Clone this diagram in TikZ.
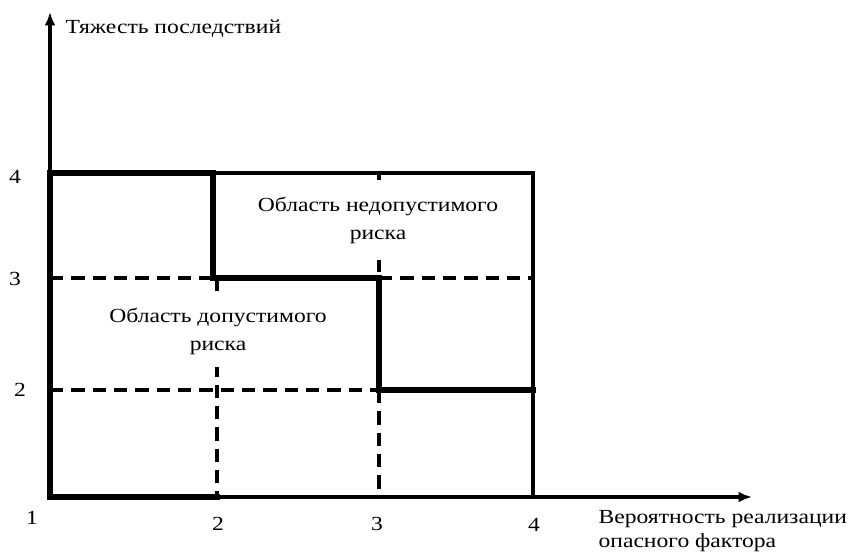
\documentclass[tikz,border=0pt]{standalone}
\usepackage{fontspec}
\setmainfont{Liberation Serif}[FakeStretch=1.18]
\usetikzlibrary{arrows.meta}
\begin{document}
\begin{tikzpicture}[x=0.75pt,y=-0.75pt,
  thickline/.style={line width=3.8pt,line cap=rect},
  thinline/.style={line width=2.3pt},
  axisline/.style={line width=2.6pt,-{Latex[length=10pt,width=8pt]}},
  dashline/.style={line width=2.3pt,dash pattern=on 10pt off 6pt},
  lbl/.style={font=\fontsize{15}{21}\selectfont,inner sep=1pt},
  area/.style={font=\fontsize{15}{21}\selectfont,align=center,fill=white,inner sep=2pt}]
\useasboundingbox (0,0) rectangle (854,551);
% grid coordinates
\coordinate (O) at (50,497);
\coordinate (ytop) at (50,12);
\coordinate (xend) at (752,497);
\coordinate (a4) at (50,173);
\coordinate (b4) at (213,173);
\coordinate (c4) at (379,173);
\coordinate (d4) at (533,173);
\coordinate (a3) at (50,278);
\coordinate (b3) at (213,278);
\coordinate (b3x) at (217,278);
\coordinate (c3) at (379,278);
\coordinate (d3) at (533,278);
\coordinate (a2) at (50,390);
\coordinate (c2) at (379,390);
\coordinate (d2) at (533,390);
\coordinate (b1) at (217,497);
\coordinate (c1) at (379,497);
\coordinate (d1) at (533,497);
% dashed grid
\draw[dashline] (a3) -- (b3);
\draw[dashline] (c3) -- (d3);
\draw[dashline] (a2) -- (c2);
\draw[dashline] (b3x) -- (b1);
\draw[dashline] (c4) -- (c3);
\draw[dashline] (c2) -- (c1);
% thin lines
\draw[thinline] (b4) -- (d4) -- (d1);
% text areas (cover the lines)
\node[area,minimum height=60pt] (bad) at (378,220) {Область недопустимого\\риска};
\node[area,minimum height=54pt] (good) at (218,331) {Область допустимого\\риска};
% axes
\draw[axisline] (O) -- (ytop);
\draw[axisline] (O) -- (xend);
% thick boundary
\draw[thickline,line join=miter] (b1) -- (O) -- (a4) -- (b4) -- (b3) -- (c3) -- (c2) -- (d2);
% labels
\node[lbl,anchor=base west] (ylab) at (64,33) {Тяжесть последствий};
\node[lbl,anchor=base west] (xlab1) at (597,523) {Вероятность реализации};
\node[lbl,anchor=base west] (xlab2) at (597,547) {опасного фактора};
\node[lbl] (y4) at (15,177) {4};
\node[lbl] (y3) at (15,279) {3};
\node[lbl] (y2) at (20,390) {2};
\node[lbl] (x1) at (32,518) {1};
\node[lbl] (x2) at (218,524) {2};
\node[lbl] (x3) at (377,524) {3};
\node[lbl] (x4) at (534,525) {4};
\end{tikzpicture}
\end{document}
